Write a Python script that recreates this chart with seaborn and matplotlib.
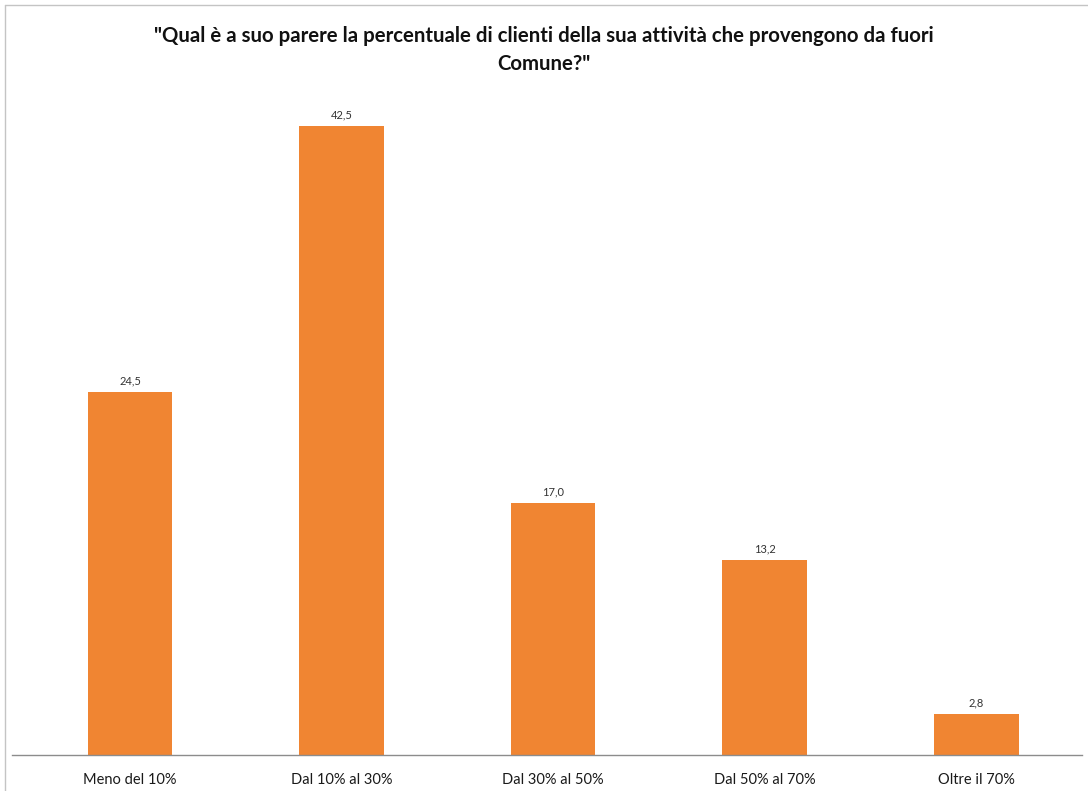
import matplotlib
matplotlib.use("Agg")
import matplotlib.pyplot as plt
from matplotlib.lines import Line2D
import seaborn as sns
import pandas as pd

categories = ["Meno del 10%", "Dal 10% al 30%", "Dal 30% al 50%", "Dal 50% al 70%", "Oltre il 70%"]
values = [24.5, 42.5, 17.0, 13.2, 2.8]
title = "\"Qual è a suo parere la percentuale di clienti della sua attività che provengono da fuori\nComune?\""

sns.set_theme(style="white")
plt.rcParams["font.family"] = ["Lato", "DejaVu Sans"]

df = pd.DataFrame({"categoria": categories, "valore": values})

fig = plt.figure(figsize=(10.88, 7.91), dpi=100)
ax = fig.add_axes([12 / 1088, 36 / 791, 1070 / 1088, 655 / 791])

sns.barplot(data=df, x="categoria", y="valore", color="#F08532", width=0.40,
            saturation=1, ax=ax, edgecolor="none")

ax.set_xlim(-0.558, 4.50)
ax.set_ylim(0, 44.26)
ax.set_xlabel("")
ax.set_ylabel("")
ax.set_yticks([])
ax.tick_params(axis="x", length=0, labelsize=10.5, colors="#1a1a1a", pad=13)

for side in ["top", "right", "left"]:
    ax.spines[side].set_visible(False)
ax.spines["bottom"].set_color("#8c8c8c")
ax.spines["bottom"].set_linewidth(1.0)

for cont in ax.containers:
    ax.bar_label(cont, labels=[f"{v:.1f}".replace(".", ",") for v in values],
                 padding=4, fontsize=8, color="#333333")

fig.text(0.5, 1 - 50 / 791, title, ha="center", va="center", fontsize=14.7,
         fontweight="bold", color="#111111", linespacing=1.45)

# light frame along the top and left edges
y_top = 1 - 4.5 / 791
x_left = 4.5 / 1088
fig.lines.append(Line2D([x_left, 1.0], [y_top, y_top], transform=fig.transFigure,
                        color="#c4c4c4", linewidth=1.0))
fig.lines.append(Line2D([x_left, x_left], [0.0, y_top], transform=fig.transFigure,
                        color="#c4c4c4", linewidth=1.0))

fig.savefig("out.png", dpi=100)
